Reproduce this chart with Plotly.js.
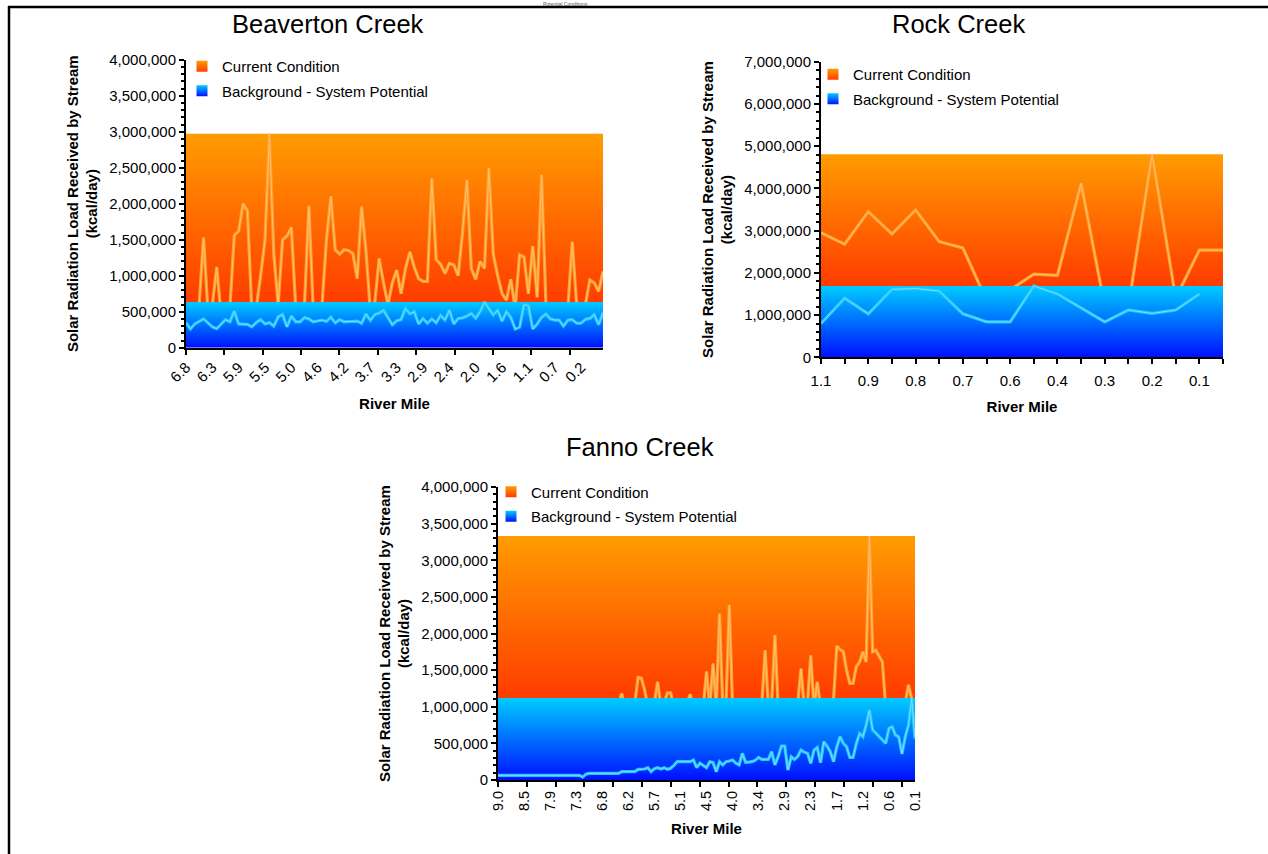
<!DOCTYPE html>
<html>
<head>
<meta charset="utf-8">
<script src="https://cdn.plot.ly/plotly-3.0.1.min.js"></script>
<style>html,body{margin:0;padding:0;background:#fff;}#chart{width:1268px;height:854px;}</style>
</head>
<body>
<div id="chart"></div>
<script>
// ---------------- DATA (kcal/day) ----------------
const seriesNames = ['Current Condition', 'Background - System Potential'];

const beavertonLabels = ['6.8','6.3','5.9','5.5','5.0','4.6','4.2','3.7','3.3','2.9','2.4','2.0','1.6','1.1','0.7','0.2'];
const beavertonCurrent = [
 500000,450000,550000,600000,1530000,500000,600000,1120000,450000,500000,
 550000,1560000,1620000,2000000,1900000,500000,550000,1000000,1500000,2970000,
 1300000,600000,1500000,1550000,1670000,550000,450000,600000,1970000,500000,
 450000,600000,1500000,2100000,1360000,1300000,1360000,1350000,1310000,960000,
 1960000,1350000,500000,620000,1240000,900000,600000,900000,1080000,750000,
 1100000,1330000,1120000,960000,920000,920000,2350000,1220000,1160000,1030000,
 1170000,1150000,1000000,1600000,2330000,1100000,950000,1200000,1100000,2490000,
 1300000,1000000,750000,660000,950000,550000,1290000,1260000,750000,1410000,
 700000,2400000,600000,500000,450000,500000,450000,550000,1470000,600000,
 500000,600000,940000,900000,780000,1060000];
const beavertonBackground = [
 347000,260000,330000,360000,400000,345000,290000,265000,330000,390000,
 361000,509000,330000,330000,325000,290000,350000,390000,330000,350000,
 300000,430000,460000,290000,440000,360000,360000,420000,400000,360000,
 375000,384000,365000,425000,345000,390000,360000,361000,370000,370000,
 340000,470000,380000,460000,480000,520000,420000,320000,375000,390000,
 546000,470000,500000,329000,407000,340000,400000,345000,450000,385000,
 523000,330000,407000,415000,440000,477000,410000,500000,635000,546000,
 454000,520000,370000,500000,420000,260000,285000,600000,585000,260000,
 330000,420000,468000,400000,384000,384000,300000,384000,390000,340000,
 340000,394000,407000,460000,320000,486000];

const rockLabels = ['1.1','0.9','0.8','0.7','0.6','0.4','0.3','0.2','0.1'];
const rockCurrent = [2950000,2680000,3450000,2920000,3490000,2740000,2590000,1350000,1600000,
 1970000,1940000,4120000,1200000,1200000,4810000,1400000,2540000,2540000];
const rockBackground = [800000,1400000,1030000,1610000,1630000,1570000,1030000,840000,840000,
 1690000,1500000,1180000,840000,1120000,1040000,1120000,1500000,null];

const fannoLabels = ['9.0','8.5','7.9','7.3','6.8','6.2','5.7','5.1','4.5','4.0','3.4','2.9','2.3','1.7','1.2','0.6','0.1'];
const fannoCurrent = [
 680000,700000,650000,720000,690000,740000,700000,760000,720000,780000,
 750000,800000,770000,820000,790000,850000,800000,860000,830000,880000,
 850000,900000,870000,920000,880000,940000,900000,960000,920000,980000,
 940000,1000000,960000,1020000,980000,1050000,1000000,1060000,1180000,950000,
 1000000,960000,1050000,1400000,1390000,1230000,1000000,950000,1050000,1340000,
 1000000,1050000,1190000,1190000,1000000,900000,950000,1000000,1050000,1170000,
 1000000,900000,950000,1000000,1480000,1000000,1590000,1000000,2270000,1000000,
 1050000,2390000,1000000,900000,950000,850000,900000,1000000,950000,900000,
 1000000,1050000,1770000,1000000,1050000,1980000,1000000,900000,950000,850000,
 950000,1000000,1050000,1520000,1000000,1050000,1700000,1000000,1340000,1000000,
 950000,900000,1000000,1100000,1830000,1780000,1750000,1500000,1320000,1320000,
 1550000,1610000,1750000,1610000,3330000,1750000,1770000,1680000,1610000,1000000,
 950000,900000,1000000,950000,900000,1050000,1300000,1100000,1050000];
const fannoBackground = [
 64000,64000,64000,64000,64000,64000,64000,64000,64000,64000,
 64000,64000,64000,64000,64000,64000,64000,64000,64000,64000,
 64000,64000,64000,64000,64000,64000,40000,80000,91000,91000,
 91000,91000,91000,91000,91000,91000,91000,91000,114000,114000,
 114000,114000,114000,145000,145000,150000,168000,114000,155000,168000,
 150000,168000,145000,160000,200000,250000,250000,250000,245000,250000,
 273000,168000,230000,200000,168000,250000,241000,114000,250000,205000,
 250000,260000,273000,230000,205000,364000,241000,245000,250000,270000,
 309000,282000,280000,282000,386000,205000,320000,464000,464000,136000,
 318000,280000,320000,409000,380000,364000,227000,409000,445000,236000,
 523000,464000,386000,250000,455000,591000,500000,455000,309000,309000,
 500000,636000,591000,750000,955000,682000,640000,591000,550000,500000,
 705000,727000,614000,591000,355000,591000,750000,1120000,568000];

// ---------------- STYLE ----------------
const W = 1268, H = 854;
const FONT = 'Arial, "Liberation Sans", Helvetica, sans-serif';
const ORANGE_TOP = '#FF9C00', ORANGE_BOT = '#FF3C00';
const BLUE_TOP = '#00CCFF', BLUE_BOT = '#0010FF';
const px = v => v / W;
const py = v => 1 - v / H;

const panels = [
  {name:'Beaverton Creek', cur:beavertonCurrent, bg:beavertonBackground, labels:beavertonLabels,
   labelStep:6, tickStep:8.74, tickAngle:-45, labelSize:15, labelPad:7, titlePad:14,
   ymax:4000000, ydt:500000, yminor:100000,
   box:[186,603,59.7,347.7], titleXY:[328,24], legendXY:[182,50]},
  {name:'Rock Creek', cur:rockCurrent, bg:rockBackground, labels:rockLabels,
   labelStep:2, tickStep:1, tickAngle:0, labelSize:15, labelPad:13, titlePad:13,
   ymax:7000000, ydt:1000000, yminor:200000,
   box:[821,1223,61.8,357.3], titleXY:[958,24], legendXY:[813,58]},
  {name:'Fanno Creek', cur:fannoCurrent, bg:fannoBackground, labels:fannoLabels,
   labelStep:8, tickStep:8.85, tickAngle:-90, labelSize:14.5, labelPad:7, titlePad:13,
   ymax:4000000, ydt:500000, yminor:100000,
   box:[498,915,487,780], titleXY:[640,447], legendXY:[491,475.5]}
];

const traces = [];
const layout = {
  width: W, height: H,
  margin: {l:0, r:0, t:0, b:0},
  paper_bgcolor: '#fff', plot_bgcolor: 'rgba(0,0,0,0)',
  font: {family: FONT, color: '#000', size: 15},
  showlegend: true,
  annotations: [], shapes: []
};

panels.forEach((p, k) => {
  const n = p.cur.length;
  const x = Array.from({length:n}, (_, i) => i);
  const cmax = Math.max(...p.cur);
  const bmax = Math.max(...p.bg.filter(v => v != null));
  const sx = k === 0 ? '' : String(k + 1);
  const xa = 'x' + sx, ya = 'y' + sx;
  const lx = 'x' + (k + 4);
  const legendId = k === 0 ? 'legend' : 'legend' + (k + 1);
  const rx = [0, n - 1, n - 1, 0, 0];

  traces.push({type:'scatter', x:rx, y:[bmax,bmax,cmax,cmax,bmax], xaxis:xa, yaxis:ya,
    mode:'none', fill:'toself', hoverinfo:'skip', showlegend:false,
    fillgradient:{type:'vertical', colorscale:[[0, ORANGE_BOT],[1, ORANGE_TOP]]}});
  traces.push({type:'scatter', x:x, y:p.cur, xaxis:xa, yaxis:ya, mode:'lines', showlegend:false,
    line:{color:'#FFA02E', width:3.2}, name:seriesNames[0]});
  traces.push({type:'scatter', x:x, y:p.cur, xaxis:xa, yaxis:ya, mode:'lines', showlegend:false,
    line:{color:'#FFC070', width:1}, hoverinfo:'skip'});
  traces.push({type:'scatter', x:rx, y:[0,0,bmax,bmax,0], xaxis:xa, yaxis:ya,
    mode:'none', fill:'toself', hoverinfo:'skip', showlegend:false,
    fillgradient:{type:'vertical', colorscale:[[0, BLUE_BOT],[1, BLUE_TOP]]}});
  traces.push({type:'scatter', x:x, y:p.bg, xaxis:xa, yaxis:ya, mode:'lines', showlegend:false,
    line:{color:'#22C6FF', width:3.2}, name:seriesNames[1]});
  traces.push({type:'scatter', x:x, y:p.bg, xaxis:xa, yaxis:ya, mode:'lines', showlegend:false,
    line:{color:'#78DEFF', width:1}, hoverinfo:'skip'});
  // legend entries (attached to the label axis so that it is drawn)
  traces.push({type:'scatter', x:[null], y:[null], xaxis:lx, yaxis:ya, mode:'markers',
    name:seriesNames[0], legend:legendId, showlegend:true, legendgroup:'c'+k,
    marker:{symbol:'square', size:11, color:ORANGE_TOP, line:{width:0},
      gradient:{type:'vertical', color:ORANGE_BOT}}});
  traces.push({type:'scatter', x:[null], y:[null], xaxis:lx, yaxis:ya, mode:'markers',
    name:seriesNames[1], legend:legendId, showlegend:true, legendgroup:'b'+k,
    marker:{symbol:'square', size:11, color:BLUE_TOP, line:{width:0},
      gradient:{type:'vertical', color:BLUE_BOT}}});

  const [x0, x1, y0, y1] = p.box;
  const tickVals = [];
  for (let t = 0; t <= n - 1 + 1e-9; t += p.tickStep) tickVals.push(t);
  const labelVals = p.labels.map((_, i) => i * p.labelStep);

  layout['xaxis' + sx] = {
    domain:[px(x0), px(x1)], range:[0, n - 1], anchor:ya,
    tickmode:'array', tickvals:tickVals, ticks:'outside', ticklen:5, tickwidth:2, tickcolor:'#000',
    showticklabels:false, showline:true, linewidth:2, linecolor:'#000',
    showgrid:false, zeroline:false, fixedrange:true
  };
  layout['xaxis' + (k + 4)] = {
    overlaying:xa, anchor:ya, range:[0, n - 1], side:'bottom', domain:[px(x0), px(x1)],
    tickmode:'array', tickvals:labelVals, ticktext:p.labels, ticks:'',
    ticklabelstandoff:p.labelPad,
    tickangle:p.tickAngle, tickfont:{size:p.labelSize, color:'#000'},
    showline:false, showgrid:false, zeroline:false, fixedrange:true,
    title:{text:'<b>River Mile</b>', font:{size:15, color:'#000'}, standoff:p.titlePad}
  };
  layout['yaxis' + sx] = {
    domain:[py(y1), py(y0)], range:[0, p.ymax], anchor:xa,
    dtick:p.ydt, tickformat:',d', ticks:'outside', ticklen:5, tickwidth:2, tickcolor:'#000',
    tickfont:{size:15, color:'#000'},
    minor:{dtick:p.yminor, ticks:'outside', ticklen:3, tickwidth:2, tickcolor:'#000', showgrid:false},
    showline:true, linewidth:2, linecolor:'#000', showgrid:false, zeroline:false, fixedrange:true,
    title:{text:'<b>Solar Radiation Load Received by Stream<br>(kcal/day)</b>', font:{size:15, color:'#000'}, standoff:8}
  };
  layout[legendId] = {
    x:px(p.legendXY[0]), y:py(p.legendXY[1]), xanchor:'left', yanchor:'top',
    bgcolor:'rgba(0,0,0,0)', borderwidth:0, font:{size:15, color:'#000'},
    tracegroupgap:2, itemwidth:30
  };
  layout.annotations.push({text:p.name, xref:'paper', yref:'paper',
    x:px(p.titleXY[0]), y:py(p.titleXY[1]), xanchor:'center', yanchor:'middle',
    showarrow:false, font:{size:25.5, color:'#000'}});
});

// page title (only a sliver shows above the frame) and frame
layout.annotations.push({text:'Potential Conditions', xref:'paper', yref:'paper',
  x:px(565), y:1, xanchor:'center', yanchor:'top', showarrow:false, borderpad:0,
  font:{size:5, color:'#555'}});
layout.shapes.push({type:'line', xref:'paper', yref:'paper', x0:px(8), x1:1, y0:py(7), y1:py(7),
  line:{color:'#000', width:2.5}});
layout.shapes.push({type:'line', xref:'paper', yref:'paper', x0:px(9), x1:px(9), y0:0, y1:py(6),
  line:{color:'#000', width:2.5}});

Plotly.newPlot('chart', traces, layout, {displayModeBar:false, staticPlot:true});
</script>
</body>
</html>
